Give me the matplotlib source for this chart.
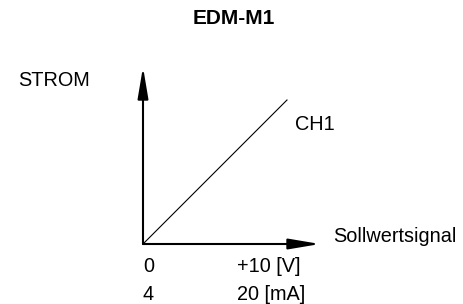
import matplotlib.pyplot as plt

plt.rcParams['font.family'] = ['Liberation Sans', 'DejaVu Sans']

# setpoint signal (V) and current (mA) for channel CH1
signal_v = [0, 10]
current_ma = [4, 20]
tick_v = ["0", "+10 [V]"]
tick_ma = ["4", "20 [mA]"]

W, H = 464, 304
fig = plt.figure(figsize=(W / 100, H / 100), dpi=100)
ax = fig.add_axes([0, 0, 1, 1])

# pixel layout: origin at (143, 244), 14.4 px per V, 9 px per mA
px_v, px_ma = 14.4, 9.0
x0, y0 = 143, H - 244
ax.set_xlim(signal_v[0] - x0 / px_v, signal_v[0] + (W - x0) / px_v)
ax.set_ylim(current_ma[0] - y0 / px_ma, current_ma[0] + (H - y0) / px_ma)
ax.axis('off')

# axes with arrow heads
arrow = dict(arrowstyle='-|>,head_length=1.9,head_width=0.32', lw=1.5,
             color='black', shrinkA=0, shrinkB=0, mutation_scale=10)
ox, oy = signal_v[0], current_ma[0]
ax.annotate('', xy=(ox + 177 / px_v, oy), xytext=(ox, oy), arrowprops=arrow)
ax.annotate('', xy=(ox, oy + 177 / px_ma), xytext=(ox, oy), arrowprops=arrow)

ax.plot(signal_v, current_ma, color='black', lw=0.8)

fs = 14.3
ax.text(ox + 152 / px_v, oy + 119 / px_ma, "CH1", fontsize=fs, va='center')
ax.text(ox + 190 / px_v, oy + 7 / px_ma, "Sollwertsignal", fontsize=fs, va='center')
ax.text(ox - 125 / px_v, oy + 164 / px_ma, "STROM", fontsize=fs, va='center')

for lbl, dx in zip(tick_v, [0, 94]):
    ax.text(ox + dx / px_v, oy - 22 / px_ma, lbl, fontsize=fs, va='center')
for lbl, dx in zip(tick_ma, [0, 94]):
    ax.text(ox + dx / px_v, oy - 50 / px_ma, lbl, fontsize=fs, va='center')

fig.text(234 / W, 1 - 18 / H, "EDM-M1", fontsize=15, fontweight='bold',
         ha='center', va='center')

fig.savefig('out.png', dpi=100, facecolor='white')
